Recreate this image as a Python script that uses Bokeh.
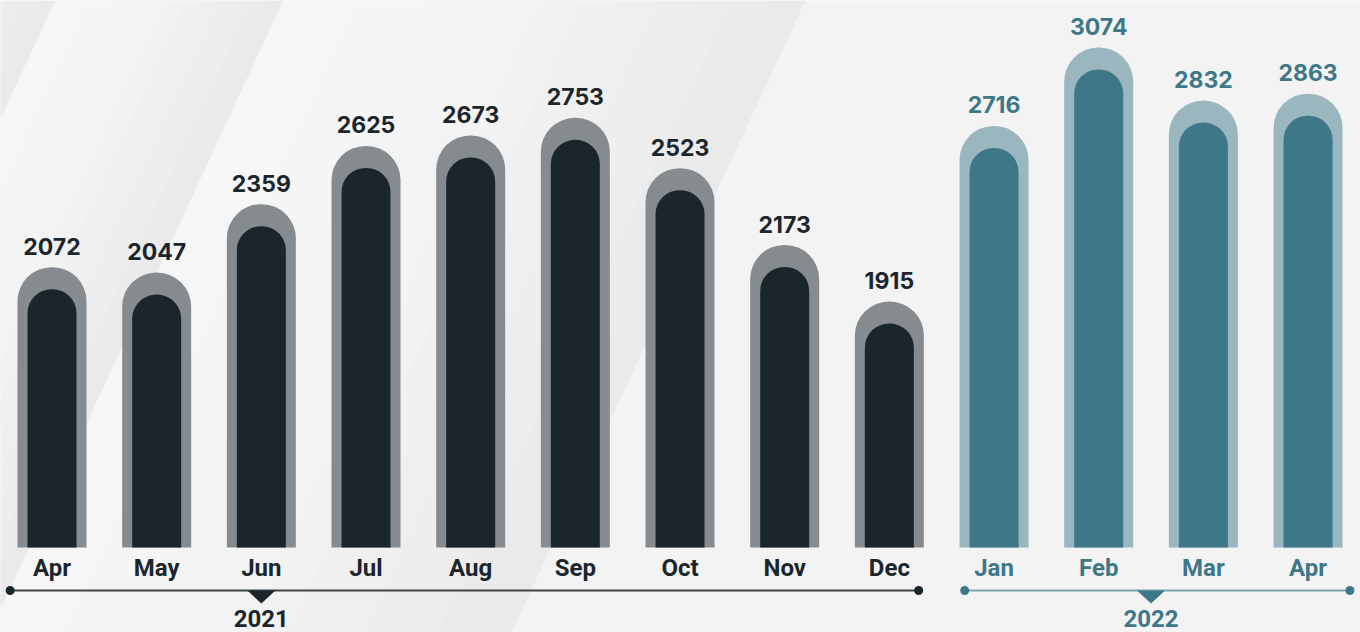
from bokeh.plotting import figure
from bokeh.models import ColumnDataSource, Range1d
from bokeh.core.properties import value
from bokeh.embed import file_html
from bokeh.resources import INLINE

# ---- data ----
months = ["Apr", "May", "Jun", "Jul", "Aug", "Sep", "Oct", "Nov", "Dec",
          "Jan", "Feb", "Mar", "Apr"]
years = ["2021"] * 9 + ["2022"] * 4
counts = [2072, 2047, 2359, 2625, 2673, 2753, 2523, 2173, 1915,
          2716, 3074, 2832, 2863]
year_labels = ["2021", "2022"]

# ---- layout constants ----
W, H = 1360, 632
X0_PX, DX_PX = 51.5, 104.67
BASE_PX = 547
Y_BASE = 793
PX_PER_UNIT = 0.2192


def px2x(px):
    return (px - X0_PX) / DX_PX


def py2y(py):
    return Y_BASE + (BASE_PX - py) / PX_PER_UNIT


BG = "#f3f3f3"
p = figure(width=W, height=H,
           x_range=Range1d(px2x(0), px2x(W)),
           y_range=Range1d(py2y(H), py2y(0)),
           output_backend="svg", toolbar_location=None,
           x_axis_location=None, y_axis_location=None,
           min_border=0, background_fill_color=BG, border_fill_color=BG,
           outline_line_color=None)
p.grid.visible = False

# ---- background diagonal bands ----
bands = [(-173, 55), (55, 283), (283, 805)]
shift = -294
xs, ys, cols = [], [], []
n = 14
for a, b in bands:
    for k in range(n):
        l = a + (b - a) * k / n
        r = a + (b - a) * (k + 1) / n
        xs.append([px2x(l), px2x(r), px2x(r + shift), px2x(l + shift)])
        ys.append([py2y(0), py2y(0), py2y(H), py2y(H)])
        g = int(round(246 - (246 - 234) * (k / (n - 1)) ** 1.6))
        cols.append("#%02x%02x%02x" % (g, g, g))
p.patches(xs, ys, fill_color=cols, line_color=None)

# ---- bars ----
is21 = [y == "2021" for y in years]
idx = list(range(len(counts)))
src = ColumnDataSource(dict(
    x=idx,
    top=counts,
    inner_top=[c - 22 / PX_PER_UNIT for c in counts],
    label=[str(c) for c in counts],
    month=months,
    outer=["#858b8e" if d else "#9ab6be" for d in is21],
    inner=["#1b262c" if d else "#3e7888" for d in is21],
    txt=["#1b262c" if d else "#3e7888" for d in is21],
))

p.vbar(x="x", width=69 / DX_PX, bottom=Y_BASE, top="top",
       fill_color="outer", line_color=None,
       border_radius=(34, 34, 0, 0), source=src)
p.vbar(x="x", width=49 / DX_PX, bottom=Y_BASE, top="inner_top",
       fill_color="inner", line_color=None,
       border_radius=(24, 24, 0, 0), source=src)

# value labels
p.text(x="x", y="top", text="label", text_align="center",
       text_baseline="alphabetic", y_offset=-21,
       text_font=value("Inter"), text_font_style="bold",
       text_font_size="23px", text_color="txt", source=src)

# month labels
p.text(x="x", y=Y_BASE, text="month", text_align="center",
       text_baseline="alphabetic", y_offset=20,
       text_font=value("Roboto"), text_font_style="bold",
       text_font_size="24px", text_color="txt", source=src)

# ---- timelines ----
line_y = py2y(590)
tip_y = py2y(603)
groups = []
for yl in year_labels:
    ii = [i for i, y in zip(idx, years) if y == yl]
    groups.append(ii)

tl_specs = [
    # start, end, line color, dot color, text color, label position
    (groups[0][0] - 0.40, groups[0][-1] + 0.28, "#3d4549", "#1b262c", "#1b262c",
     groups[0][2]),
    (groups[1][0] - 0.28, groups[1][-1] + 0.40, "#7aa5b0", "#3e7888", "#3e7888",
     (groups[1][1] + groups[1][2]) / 2),
]
half_tri = 14 / DX_PX
for (s, e, lc, dc, tc, pos), yl in zip(tl_specs, year_labels):
    p.line([s, e], [line_y, line_y], line_color=lc, line_width=2.2)
    p.scatter([s, e], [line_y, line_y], size=9, fill_color=dc,
              line_color=None)
    p.patch([pos - half_tri, pos + half_tri, pos],
            [line_y, line_y, tip_y], fill_color=dc, line_color=None)
    p.text(x=[pos], y=[Y_BASE], text=[yl], text_align="center",
           text_baseline="alphabetic", y_offset=71,
           text_font=value("Roboto"), text_font_style="bold",
           text_font_size="24px", text_color=tc)

open("out.html", "w").write(file_html(p, INLINE))
